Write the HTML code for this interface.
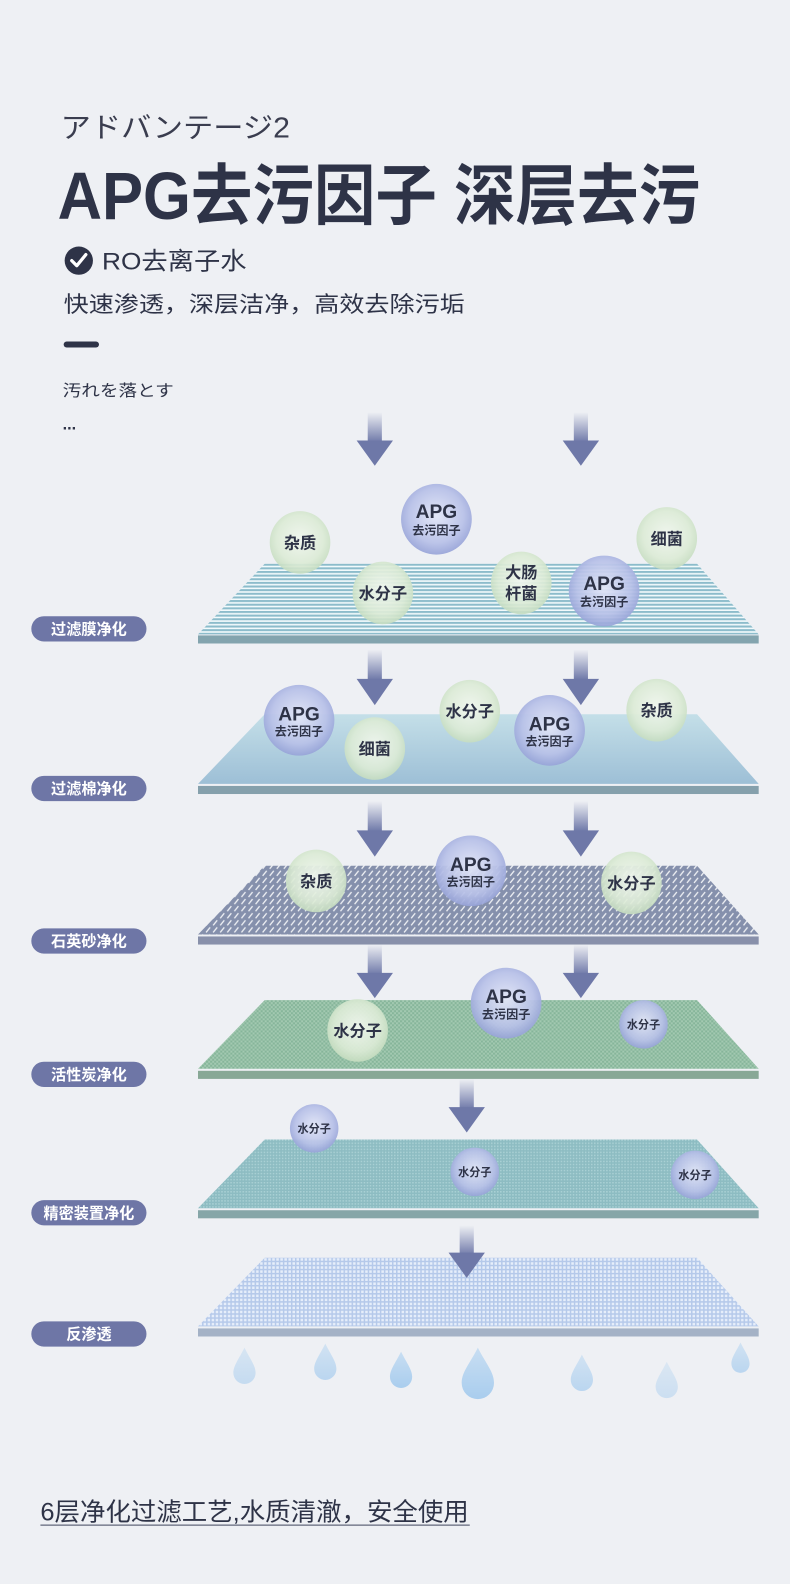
<!DOCTYPE html>
<html><head><meta charset="utf-8"><style>
html,body{margin:0;padding:0;background:#eef0f4;}
svg{display:block}
text{font-family:"Liberation Sans","Noto Sans CJK SC",sans-serif;}
</style></head><body>
<svg width="790" height="1584" viewBox="0 0 782 1568" preserveAspectRatio="none" xmlns="http://www.w3.org/2000/svg">
<defs>
<linearGradient id="sh" x1="0" y1="0" x2="0" y2="1"><stop offset="0" stop-color="#6e78a8" stop-opacity="0"/><stop offset="1" stop-color="#6e78a8"/></linearGradient>
<radialGradient id="gg" cx="0.5" cy="0.45" r="0.55"><stop offset="0" stop-color="#f0f6ee" stop-opacity="0.95"/><stop offset="0.7" stop-color="#dcebd6" stop-opacity="0.92"/><stop offset="1" stop-color="#c6ddc0" stop-opacity="0.9"/></radialGradient>
<radialGradient id="bg" cx="0.5" cy="0.45" r="0.55"><stop offset="0" stop-color="#e2e6f7" stop-opacity="0.95"/><stop offset="0.7" stop-color="#b8c1e8" stop-opacity="0.93"/><stop offset="1" stop-color="#97a3d8" stop-opacity="0.92"/></radialGradient>
<pattern id="p1" width="4" height="3.6" patternUnits="userSpaceOnUse"><rect width="4" height="3.6" fill="#f2fafc"/><rect width="4" height="2" fill="#8cbccb"/></pattern>
<linearGradient id="g2" x1="0" y1="0" x2="0" y2="1"><stop offset="0" stop-color="#c4dfe8"/><stop offset="1" stop-color="#9dbfd6"/></linearGradient>
<pattern id="p3" width="7" height="7" patternUnits="userSpaceOnUse"><rect width="7" height="7" fill="#8590ac"/><path d="M1 6 L5 1" stroke="#eef0f4" stroke-width="1.3"/></pattern>
<pattern id="p4" width="4" height="4" patternUnits="userSpaceOnUse"><rect width="4" height="4" fill="#86b59a"/><rect width="2" height="2" fill="#a3c9b1"/><rect x="2" y="2" width="2" height="2" fill="#a3c9b1"/></pattern>
<pattern id="p5" width="3" height="3" patternUnits="userSpaceOnUse"><rect width="3" height="3" fill="#8dbcc2"/><rect width="1.5" height="1.5" fill="#a9d0d4"/></pattern>
<pattern id="p6" width="4" height="4" patternUnits="userSpaceOnUse"><rect width="4" height="4" fill="#e6eefa"/><rect width="4" height="1.5" fill="#b5c9ea"/><rect width="1.5" height="4" fill="#b5c9ea"/></pattern>
<linearGradient id="drop" x1="0" y1="0" x2="0" y2="1"><stop offset="0" stop-color="#c8def2"/><stop offset="1" stop-color="#a9cdee"/></linearGradient>
</defs>

<!-- header -->
<text x="60" y="136" font-size="28" fill="#3a3d4f" textLength="227" lengthAdjust="spacingAndGlyphs">アドバンテージ2</text>
<text x="57" y="217" font-size="66" font-weight="bold" fill="#2e3347" textLength="636" lengthAdjust="spacingAndGlyphs">APG去污因子 深层去污</text>
<circle cx="78" cy="258" r="14" fill="#2e3347"/>
<path d="M71 258 L76 263 L85 252" stroke="#fff" stroke-width="3.2" fill="none" stroke-linecap="round" stroke-linejoin="round"/>
<text x="101" y="267" font-size="24" fill="#2e3347" textLength="143" lengthAdjust="spacingAndGlyphs">RO去离子水</text>
<text x="63" y="309" font-size="22" fill="#2e3347" textLength="397" lengthAdjust="spacingAndGlyphs">快速渗透，深层洁净，高效去除污垢</text>
<rect x="63" y="338" width="35" height="6" rx="3" fill="#2e3347"/>
<text x="62" y="392" font-size="16" fill="#2e3347" textLength="110" lengthAdjust="spacingAndGlyphs">汚れを落とす</text>
<text x="62" y="425" font-size="16" font-weight="bold" fill="#2e3347">...</text>

<!-- layers -->
<g>
<polygon points="262,558 690,558 751,628 196,628" fill="url(#p1)"/>
<rect x="196" y="629" width="555" height="8" fill="#83a4ae"/>
<polygon points="262,707 690,707 751,776 196,776" fill="url(#g2)"/>
<rect x="196" y="778" width="555" height="8" fill="#85a0ac"/>
<polygon points="262,857 690,857 751,925 196,925" fill="url(#p3)"/>
<rect x="196" y="927" width="555" height="8" fill="#8890aa"/>
<polygon points="262,990 690,990 751,1058 196,1058" fill="url(#p4)"/>
<rect x="196" y="1060" width="555" height="8" fill="#88a896"/>
<polygon points="262,1128 690,1128 751,1196 196,1196" fill="url(#p5)"/>
<rect x="196" y="1198" width="555" height="8" fill="#86a6a8"/>
<polygon points="262,1245 690,1245 751,1313 196,1313" fill="url(#p6)"/>
<rect x="196" y="1315" width="555" height="8" fill="#a4b2c6"/>
</g>

<!-- labels -->
<g font-size="15" font-weight="bold" fill="#fff" text-anchor="middle">
<rect x="31" y="610" width="114" height="25" rx="12.5" fill="#6e76a6"/><text x="88" y="628">过滤膜净化</text>
<rect x="31" y="768" width="114" height="25" rx="12.5" fill="#6e76a6"/><text x="88" y="786">过滤棉净化</text>
<rect x="31" y="919" width="114" height="25" rx="12.5" fill="#6e76a6"/><text x="88" y="937">石英砂净化</text>
<rect x="31" y="1051" width="114" height="25" rx="12.5" fill="#6e76a6"/><text x="88" y="1069">活性炭净化</text>
<rect x="31" y="1188" width="114" height="25" rx="12.5" fill="#6e76a6"/><text x="88" y="1206">精密装置净化</text>
<rect x="31" y="1308" width="114" height="25" rx="12.5" fill="#6e76a6"/><text x="88" y="1326">反渗透</text>
</g>

<!-- arrows -->
<g fill="url(#sh)">
<rect x="364" y="408" width="14" height="30"/><rect x="568" y="408" width="14" height="30"/>
<rect x="364" y="643" width="14" height="30"/><rect x="568" y="643" width="14" height="30"/>
<rect x="364" y="793" width="14" height="30"/><rect x="568" y="793" width="14" height="30"/>
<rect x="364" y="935" width="14" height="30"/><rect x="568" y="935" width="14" height="30"/>
<rect x="455" y="1068" width="14" height="30"/>
<rect x="455" y="1213" width="14" height="30"/>
</g>
<g fill="#6e78a8">
<polygon points="353,436 389,436 371,461"/><polygon points="557,436 593,436 575,461"/>
<polygon points="353,672 389,672 371,698"/><polygon points="557,672 593,672 575,698"/>
<polygon points="353,822 389,822 371,848"/><polygon points="557,822 593,822 575,848"/>
<polygon points="353,963 389,963 371,988"/><polygon points="557,963 593,963 575,988"/>
<polygon points="444,1096 480,1096 462,1121"/>
<polygon points="444,1240 480,1240 462,1265"/>
</g>

<!-- bubbles -->
<g fill="#2e3347" font-weight="bold" text-anchor="middle">
<ellipse cx="297" cy="537" rx="30" ry="31" fill="url(#gg)"/><text x="297" y="543" font-size="16">杂质</text>
<ellipse cx="432" cy="514" rx="35" ry="35" fill="url(#bg)"/><text x="432" y="513" font-size="19">APG</text><text x="432" y="529" font-size="12">去污因子</text>
<ellipse cx="660" cy="533" rx="30" ry="31" fill="url(#gg)"/><text x="660" y="539" font-size="16">细菌</text>
<ellipse cx="379" cy="587" rx="30" ry="31" fill="url(#gg)"/><text x="379" y="593" font-size="16">水分子</text>
<ellipse cx="516" cy="577" rx="30" ry="31" fill="url(#gg)"/><text x="516" y="572" font-size="16">大肠</text><text x="516" y="593" font-size="16">杆菌</text>
<ellipse cx="598" cy="585" rx="35" ry="35" fill="url(#bg)"/><text x="598" y="584" font-size="19">APG</text><text x="598" y="600" font-size="12">去污因子</text>
<ellipse cx="296" cy="713" rx="35" ry="35" fill="url(#bg)"/><text x="296" y="713" font-size="19">APG</text><text x="296" y="728" font-size="12">去污因子</text>
<ellipse cx="371" cy="741" rx="30" ry="31" fill="url(#gg)"/><text x="371" y="747" font-size="16">细菌</text>
<ellipse cx="465" cy="704" rx="30" ry="31" fill="url(#gg)"/><text x="465" y="710" font-size="16">水分子</text>
<ellipse cx="544" cy="723" rx="35" ry="35" fill="url(#bg)"/><text x="544" y="723" font-size="19">APG</text><text x="544" y="738" font-size="12">去污因子</text>
<ellipse cx="650" cy="703" rx="30" ry="31" fill="url(#gg)"/><text x="650" y="709" font-size="16">杂质</text>
<ellipse cx="313" cy="872" rx="30" ry="31" fill="url(#gg)"/><text x="313" y="878" font-size="16">杂质</text>
<ellipse cx="466" cy="862" rx="35" ry="35" fill="url(#bg)"/><text x="466" y="862" font-size="19">APG</text><text x="466" y="877" font-size="12">去污因子</text>
<ellipse cx="625" cy="874" rx="30" ry="31" fill="url(#gg)"/><text x="625" y="880" font-size="16">水分子</text>
<ellipse cx="354" cy="1020" rx="30" ry="31" fill="url(#gg)"/><text x="354" y="1026" font-size="16">水分子</text>
<ellipse cx="501" cy="993" rx="35" ry="35" fill="url(#bg)"/><text x="501" y="993" font-size="19">APG</text><text x="501" y="1008" font-size="12">去污因子</text>
<ellipse cx="637" cy="1014" rx="24" ry="24" fill="url(#bg)"/><text x="637" y="1018" font-size="11">水分子</text>
<ellipse cx="311" cy="1117" rx="24" ry="24" fill="url(#bg)"/><text x="311" y="1121" font-size="11">水分子</text>
<ellipse cx="470" cy="1160" rx="24" ry="24" fill="url(#bg)"/><text x="470" y="1164" font-size="11">水分子</text>
<ellipse cx="688" cy="1163" rx="24" ry="24" fill="url(#bg)"/><text x="688" y="1167" font-size="11">水分子</text>
</g>

<!-- drops -->
<g fill="url(#drop)">
<path d="M242 1334 C236 1346 231 1352 231 1359 A11 11 0 0 0 253 1359 C253 1352 248 1346 242 1334Z" opacity="0.6"/>
<path d="M322 1330 C316 1342 311 1348 311 1355 A11 11 0 0 0 333 1355 C333 1348 328 1342 322 1330Z" opacity="0.75"/>
<path d="M397 1338 C391 1350 386 1356 386 1363 A11 11 0 0 0 408 1363 C408 1356 403 1350 397 1338Z"/>
<path d="M473 1334 C465 1350 457 1358 457 1369 A16 16 0 0 0 489 1369 C489 1358 481 1350 473 1334Z"/>
<path d="M576 1341 C570 1353 565 1359 565 1366 A11 11 0 0 0 587 1366 C587 1359 582 1353 576 1341Z" opacity="0.75"/>
<path d="M660 1348 C654 1360 649 1366 649 1373 A11 11 0 0 0 671 1373 C671 1366 666 1360 660 1348Z" opacity="0.5"/>
<path d="M733 1329 C728 1339 724 1344 724 1350 A9 9 0 0 0 742 1350 C742 1344 738 1339 733 1329Z" opacity="0.75"/>
</g>

<!-- footer -->
<text x="40" y="1505" font-size="25" fill="#2e3347" textLength="424" lengthAdjust="spacingAndGlyphs">6层净化过滤工艺,水质清澈，安全使用</text>
<rect x="40" y="1509" width="425" height="1.5" fill="#7a7f90"/>
</svg>
</body></html>
